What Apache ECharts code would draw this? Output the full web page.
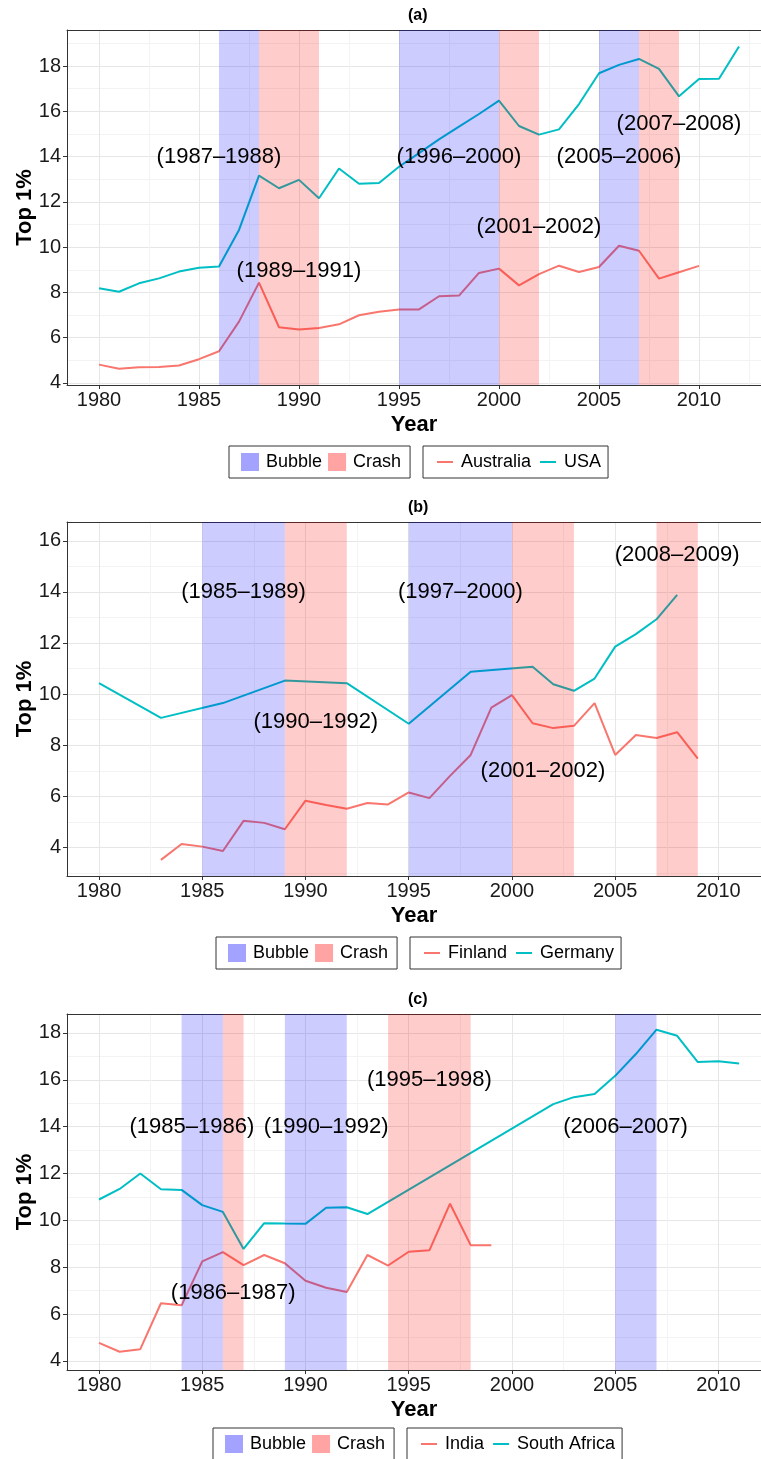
<!DOCTYPE html>
<html>
<head>
<meta charset="utf-8">
<script src="https://cdn.jsdelivr.net/npm/echarts@6/dist/echarts.min.js"></script>
<style>
html,body{margin:0;padding:0;background:#fff;}
#chart{width:761px;height:1459px;}
</style>
</head>
<body>
<div id="chart"></div>
<script>
// ---------------- DATA ----------------
// Panel (a)
const australiaYears = [1980,1981,1982,1983,1984,1985,1986,1987,1988,1989,1990,1991,1992,1993,1994,1995,1996,1997,1998,1999,2000,2001,2002,2003,2004,2005,2006,2007,2008,2009,2010];
const australiaTop1 = [4.81,4.63,4.69,4.71,4.77,5.05,5.40,6.71,8.43,6.46,6.36,6.43,6.59,6.99,7.15,7.24,7.25,7.83,7.86,8.86,9.05,8.31,8.81,9.18,8.90,9.12,10.06,9.84,8.61,8.89,9.17];
const usaYears = [1980,1981,1982,1983,1984,1985,1986,1987,1988,1989,1990,1991,1992,1993,1994,1995,1996,1997,1998,1999,2000,2001,2002,2003,2004,2005,2006,2007,2008,2009,2010,2011,2012];
const usaTop1 = [8.18,8.03,8.40,8.62,8.92,9.09,9.14,10.76,13.16,12.60,12.97,12.16,13.47,12.80,12.83,13.55,14.15,14.76,15.32,15.88,16.47,15.35,14.97,15.20,16.32,17.68,18.05,18.31,17.87,16.66,17.43,17.44,18.86];
const bubbleA = [[1986,1988],[1995,2000],[2005,2007]];
const crashA = [[1988,1991],[2000,2002],[2007,2009]];
const labelsA = [[1986,14,'(1987–1988)'],[1990,8.95,'(1989–1991)'],[1998,14,'(1996–2000)'],[2002,10.9,'(2001–2002)'],[2006,14,'(2005–2006)'],[2009,15.45,'(2007–2008)']];

// Panel (b)
const finlandYears = [1983,1984,1985,1986,1987,1988,1989,1990,1991,1992,1993,1994,1995,1996,1997,1998,1999,2000,2001,2002,2003,2004,2005,2006,2007,2008,2009];
const finlandTop1 = [3.51,4.13,4.03,3.86,5.04,4.96,4.71,5.83,5.66,5.51,5.74,5.68,6.15,5.93,6.80,7.62,9.47,9.96,8.86,8.67,8.76,9.65,7.62,8.40,8.28,8.51,7.48];
const germanyYears = [1980,1983,1986,1989,1992,1995,1998,2001,2002,2003,2004,2005,2006,2007,2008];
const germanyTop1 = [10.43,9.07,9.65,10.53,10.43,8.84,10.88,11.07,10.39,10.13,10.61,11.86,12.35,12.93,13.89];
const bubbleB = [[1985,1989],[1995,2000]];
const crashB = [[1989,1992],[2000,2003],[2007,2009]];
const labelsB = [[1987,14,'(1985–1989)'],[1990.5,8.9,'(1990–1992)'],[1997.5,14,'(1997–2000)'],[2001.5,7,'(2001–2002)'],[2008,15.45,'(2008–2009)']];

// Panel (c)
const indiaYears = [1980,1981,1982,1983,1984,1985,1986,1987,1988,1989,1990,1991,1992,1993,1994,1995,1996,1997,1998,1999];
const indiaTop1 = [4.77,4.39,4.50,6.46,6.37,8.25,8.64,8.09,8.52,8.17,7.42,7.12,6.94,8.52,8.07,8.66,8.72,10.71,8.94,8.94];
const southAfricaYears = [1980,1981,1982,1983,1984,1985,1986,1987,1988,1989,1990,1991,1992,1993,2002,2003,2004,2005,2006,2007,2008,2009,2010,2011];
const southAfricaTop1 = [10.89,11.34,12.00,11.33,11.30,10.65,10.36,8.78,9.88,9.86,9.85,10.54,10.56,10.27,14.96,15.26,15.39,16.17,17.10,18.14,17.88,16.76,16.79,16.70];
const bubbleC = [[1984,1986],[1989,1992],[2005,2007]];
const crashC = [[1986,1987],[1994,1998]];
const labelsC = [[1984.5,14,'(1985–1986)'],[1991,14,'(1990–1992)'],[1986.5,6.9,'(1986–1987)'],[1996,16,'(1995–1998)'],[2005.5,14,'(2006–2007)']];

// Tick values
const xMajor = [1980,1985,1990,1995,2000,2005,2010];
const xMinor = [1982.5,1987.5,1992.5,1997.5,2002.5,2007.5,2012.5];
const yMajor = [4,6,8,10,12,14,16,18];
const yMinorA = [5,7,9,11,13,15,17,19];
const yMinorB = [3,5,7,9,11,13,15];
const yMinorC = [5,7,9,11,13,15,17];

const panelTitles = ['(a)','(b)','(c)'];
const seriesNames = [['Australia','USA'],['Finland','Germany'],['India','South Africa']];

// ---------------- STYLE / LAYOUT ----------------
const FONT = 'Liberation Sans, Arial, Helvetica, sans-serif';
const RED = '#F8766D', CYAN = '#00BFC4';
const BUBBLE_FILL = 'rgba(0,0,255,0.2)', CRASH_FILL = 'rgba(255,0,0,0.2)';
const BUBBLE_KEY = '#a3a3ff', CRASH_KEY = '#ffa3a3';
const BORDER = '#333';

const panels = [
  {top:30, height:355, ymin:3.91, ymax:19.59, xmin:1978.4, xmax:2013.1, yMinor:yMinorA,
   s1:[australiaYears,australiaTop1], s2:[usaYears,usaTop1], bubble:bubbleA, crash:crashA, labels:labelsA,
   leg1Left:229, leg2Left:423, legTop:446},
  {top:522, height:354, ymin:2.88, ymax:16.74, xmin:1978.45, xmax:2012.06, yMinor:yMinorB,
   s1:[finlandYears,finlandTop1], s2:[germanyYears,germanyTop1], bubble:bubbleB, crash:crashB, labels:labelsB,
   leg1Left:216, leg2Left:410, legTop:937},
  {top:1014, height:356, ymin:3.61, ymax:18.81, xmin:1978.45, xmax:2012.06, yMinor:yMinorC,
   s1:[indiaYears,indiaTop1], s2:[southAfricaYears,southAfricaTop1], bubble:bubbleC, crash:crashC, labels:labelsC,
   leg1Left:213, leg2Left:407, legTop:1428}
];

function zip(xs, ys){ return xs.map((x,i)=>[x, ys[i]]); }

const option = {animation:false, backgroundColor:'#fff', title:[], grid:[], xAxis:[], yAxis:[], series:[], legend:[]};

panels.forEach((p, gi) => {
  const GRID_LEFT = 67, GRID_W = 694;
  option.grid.push({left:GRID_LEFT, top:p.top, width:GRID_W, height:p.height, show:false,
    containLabel:false, outerBoundsMode:'none'});
  option.title.push({text:panelTitles[gi], left:408, top:p.top-22, padding:0,
    textStyle:{fontFamily:FONT, fontSize:16, fontWeight:'bold', color:'#000'}});
  const xa = option.xAxis.length;
  option.xAxis.push({type:'value', gridIndex:gi, min:p.xmin, max:p.xmax, position:'bottom',
    axisLine:{show:true, lineStyle:{color:BORDER, width:1}},
    axisTick:{show:true, length:4, lineStyle:{color:BORDER}, customValues:xMajor},
    axisLabel:{customValues:xMajor, fontFamily:FONT, fontSize:20, color:'#1a1a1a', margin:5, formatter:v=>String(v)},
    splitLine:{show:true, lineStyle:{color:'#e6e6e6', width:1}},
    name:'Year', nameLocation:'middle', nameGap:29, nameMoveOverlap:false,
    nameTextStyle:{fontFamily:FONT, fontSize:22, fontWeight:'bold', color:'#000'}});
  option.xAxis.push({type:'value', gridIndex:gi, min:p.xmin, max:p.xmax, position:'top',
    axisLine:{show:true, lineStyle:{color:BORDER, width:1}}, axisTick:{show:false, customValues:xMinor}, axisLabel:{show:false, customValues:xMinor},
    splitLine:{show:true, lineStyle:{color:'#f3f3f3', width:1}}});
  const ya = option.yAxis.length;
  option.yAxis.push({type:'value', gridIndex:gi, min:p.ymin, max:p.ymax, position:'left',
    axisLine:{show:true, lineStyle:{color:BORDER, width:1}},
    axisTick:{show:true, length:4, lineStyle:{color:BORDER}, customValues:yMajor},
    axisLabel:{customValues:yMajor, fontFamily:FONT, fontSize:20, color:'#1a1a1a', margin:6, formatter:v=>String(v)},
    splitLine:{show:true, lineStyle:{color:'#e6e6e6', width:1}},
    name:'Top 1%', nameLocation:'middle', nameGap:31, nameMoveOverlap:false,
    nameTextStyle:{fontFamily:FONT, fontSize:22, fontWeight:'bold', color:'#000'}});
  option.yAxis.push({type:'value', gridIndex:gi, min:p.ymin, max:p.ymax, position:'left',
    axisLine:{show:false}, axisTick:{show:false, customValues:p.yMinor}, axisLabel:{show:false, customValues:p.yMinor},
    splitLine:{show:true, lineStyle:{color:'#f3f3f3', width:1}}});

  const names = seriesNames[gi];
  option.series.push({type:'line', name:names[0], xAxisIndex:xa, yAxisIndex:ya, data:zip(p.s1[0], p.s1[1]),
    showSymbol:false, symbol:'none', color:RED, lineStyle:{color:RED, width:2}, z:2});
  option.series.push({type:'line', name:names[1], xAxisIndex:xa, yAxisIndex:ya, data:zip(p.s2[0], p.s2[1]),
    showSymbol:false, symbol:'none', color:CYAN, lineStyle:{color:CYAN, width:2}, z:2});

  const band = (name, data, fill, key) => ({
    type:'custom', name:name, xAxisIndex:xa, yAxisIndex:ya, data:data, z:3,
    itemStyle:{color:key}, dimensions:['start','end'], encode:{x:[0,1]},
    renderItem:(params, api) => {
      const x0 = api.coord([api.value(0), p.ymin])[0];
      const x1 = api.coord([api.value(1), p.ymin])[0];
      const cs = params.coordSys;
      return {type:'rect', shape:{x:x0, y:cs.y, width:x1-x0, height:cs.height}, style:{fill:fill}};
    }
  });
  option.series.push(band('Bubble', p.bubble, BUBBLE_FILL, BUBBLE_KEY));
  option.series.push(band('Crash', p.crash, CRASH_FILL, CRASH_KEY));

  option.series.push({type:'scatter', name:'labels'+gi, xAxisIndex:xa, yAxisIndex:ya, data:p.labels, symbolSize:0, z:4,
    silent:true,
    label:{show:true, position:'inside', formatter:(q)=>q.data[2], fontFamily:FONT, fontSize:22, color:'#000', opacity:1, textBorderWidth:0}});

  option.legend.push({data:['Bubble','Crash'], left:p.leg1Left, top:p.legTop, orient:'horizontal',
    padding:[7,9,7,12], itemGap:6, itemWidth:18, itemHeight:18, icon:'rect',
    borderColor:BORDER, borderWidth:1, selectedMode:false,
    textStyle:{fontFamily:FONT, fontSize:18, color:'#000', padding:[0,0,0,2]}});
  option.legend.push({data:names, left:p.leg2Left, top:p.legTop, orient:'horizontal',
    padding:[7,7,7,14], itemGap:9, itemWidth:16, itemHeight:2, icon:'rect',
    borderColor:BORDER, borderWidth:1, selectedMode:false,
    textStyle:{fontFamily:FONT, fontSize:18, color:'#000', padding:[0,0,0,3], height:18, lineHeight:18}});
});

const chart = echarts.init(document.getElementById('chart'), null, {renderer:'canvas', width:761, height:1459});
chart.setOption(option);
</script>
</body>
</html>
